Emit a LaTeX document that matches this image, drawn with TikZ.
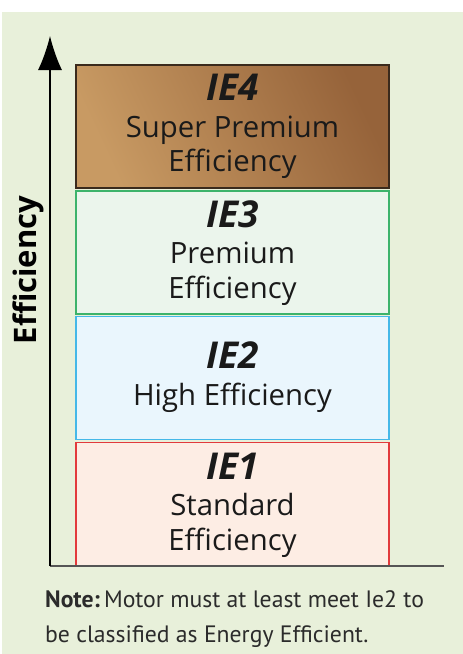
\documentclass[tikz,border=0pt]{standalone}
\usepackage{fontspec}
\setmainfont{Open Sans}
\newfontfamily\notefont{PT Sans}
\usetikzlibrary{arrows.meta}

\definecolor{panelbg}{HTML}{E8F0DA}
\definecolor{ieivlight}{HTML}{C89A63}
\definecolor{ieivdark}{HTML}{96633A}
\definecolor{ieivline}{HTML}{3A2A1C}
\definecolor{ieiiifill}{HTML}{EBF5EC}
\definecolor{ieiiiline}{HTML}{3DB36B}
\definecolor{ieiifill}{HTML}{EAF6FD}
\definecolor{ieiiline}{HTML}{45B8E8}
\definecolor{ieifill}{HTML}{FDEDE4}
\definecolor{ieiline}{HTML}{E23A3C}
\definecolor{basegray}{HTML}{555555}
\definecolor{notetext}{HTML}{2B2B2B}
\definecolor{labeltext}{HTML}{1A1A1A}

\tikzset{
  tier/.style={rectangle, minimum width=313pt, minimum height=123pt,
               inner sep=0pt, line width=1.2pt},
  tiername/.style={anchor=base, text=labeltext, inner sep=0pt,
                   font=\fontsize{37}{40}\selectfont\bfseries\itshape},
  tiertext/.style={anchor=base, text=labeltext, inner sep=0pt,
                   font=\fontsize{29.3}{34}\selectfont},
  notestyle/.style={anchor=base west, text=notetext, inner sep=0pt,
                    font=\notefont\fontsize{23.7}{28}\selectfont},
}

\begin{document}
\begin{tikzpicture}[x=1pt, y=-1pt]
  \useasboundingbox (0,0) rectangle (463,654);
  \fill[white] (0,0) rectangle (463,654);
  \fill[panelbg] (2,12) rectangle (463,654);

  % efficiency tiers, lowest at the bottom
  \node[tier, draw=ieiline, fill=ieifill]     (ie1) at (232.5,504) {};
  \node[tier, draw=ieiiline, fill=ieiifill]   (ie2) at (232.5,378) {};
  \node[tier, draw=ieiiiline, fill=ieiiifill] (ie3) at (232.5,252.5) {};
  \node[tier, draw=ieivline, left color=ieivlight, right color=ieivdark,
        shading angle=115] (ie4) at (232.5,126.5) {};

  % axes
  \coordinate (origin) at (50,566);
  \coordinate (ytip) at (50,36);
  \coordinate (xend) at (444,566);
  \draw[basegray, line width=1.3pt] (origin) -- (xend);
  \draw[black, line width=1.3pt, -{Latex[length=34pt, width=24pt]}] (origin) -- (ytip);
  \node[rotate=90, anchor=base, inner sep=0pt, text=black,
        font=\fontsize{31}{34}\selectfont\bfseries] (ylabel) at (36,270) {Efficiency};

  % tier labels
  \node[tiername] (n4) at (232.5,100) {IE4};
  \node[tiertext] (t4a) at (232.5,137) {Super Premium};
  \node[tiertext] (t4b) at (232.5,171) {Efficiency};

  \node[tiername] (n3) at (232.5,227) {IE3};
  \node[tiertext] (t3a) at (232.5,263) {Premium};
  \node[tiertext] (t3b) at (232.5,298) {Efficiency};

  \node[tiername] (n2) at (232.5,368) {IE2};
  \node[tiertext] (t2a) at (232.5,405) {High Efficiency};

  \node[tiername] (n1) at (232.5,479) {IE1};
  \node[tiertext] (t1a) at (232.5,515) {Standard};
  \node[tiertext] (t1b) at (232.5,550) {Efficiency};

  % footnote
  \node[notestyle] (note1) at (45,607) {\textbf{Note:}\,Motor must at least meet Ie2 to};
  \node[notestyle] (note2) at (45,642) {be classified as Energy Efficient.};
\end{tikzpicture}
\end{document}
